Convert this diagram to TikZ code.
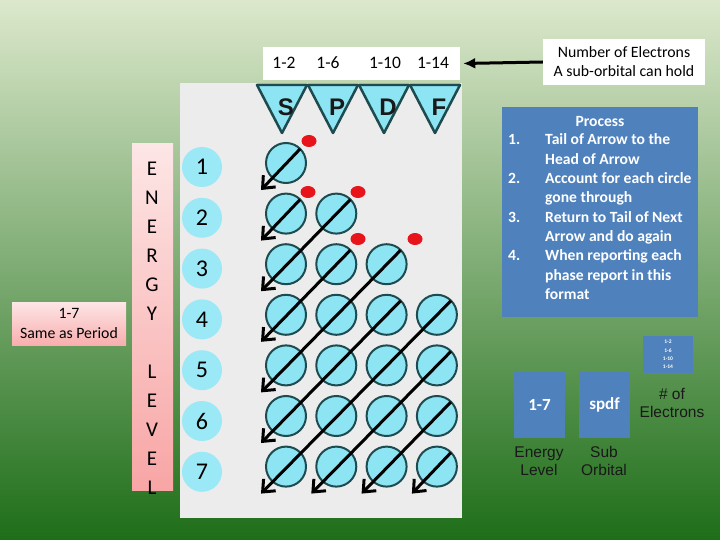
\documentclass[tikz,border=0pt]{standalone}
\usepackage{fontspec}
\setmainfont{Carlito}
\newfontfamily\arialf{Liberation Sans}
\usetikzlibrary{arrows.meta,calc,shapes.geometric}

\definecolor{orbfill}{RGB}{141,228,243}
\definecolor{orbline}{RGB}{30,75,80}
\definecolor{numfill}{RGB}{155,232,246}
\definecolor{panelgray}{RGB}{236,236,236}
\definecolor{procblue}{RGB}{79,129,189}
\definecolor{dotred}{RGB}{232,20,28}
\definecolor{bgtop}{RGB}{220,232,204}
\definecolor{bgmid}{RGB}{135,176,100}
\definecolor{bgbot}{RGB}{30,110,25}
\definecolor{pinktop}{RGB}{253,230,230}
\definecolor{pinkbot}{RGB}{248,165,165}

\begin{document}
\begin{tikzpicture}[x=1pt,y=-1pt,
  orb/.style={circle, draw=orbline, line width=2pt, fill=orbfill, minimum size=40pt, inner sep=0pt},
  lvl/.style={circle, fill=numfill, minimum size=40pt, inner sep=0pt, font=\fontsize{24}{26}\selectfont},
  tri/.style={draw=orbline, line width=2.5pt, fill=orbfill, line join=round},
  diag/.style={line width=3pt, -{Straight Barb[length=10pt,width=17pt]}},
  reddot/.style={ellipse, fill=dotred, minimum width=15pt, minimum height=12pt, inner sep=0pt},
  elet/.style={font=\fontsize{21}{22}\selectfont, inner sep=0pt},
  toplbl/.style={font=\fontsize{17.5}{19}\selectfont, inner sep=0pt},
  spdf/.style={font=\arialf\bfseries\fontsize{24}{25}\selectfont, inner sep=0pt, text=black!90},
  proctxt/.style={font=\bfseries\fontsize{15.6}{17}\selectfont, text=white, inner sep=0pt, anchor=base west},
  legbox/.style={fill=procblue, minimum width=51pt, minimum height=66pt, inner sep=0pt, text=white, font=\bfseries\fontsize{17}{18}\selectfont},
  leglbl/.style={font=\arialf\fontsize{15.5}{18}\selectfont, align=center, inner sep=0pt, text=black!90}
]
% background
\shade[top color=bgtop, middle color=bgmid, bottom color=bgbot] (0,0) rectangle (720,540);
\useasboundingbox (0,0) rectangle (720,540);

% gray panel
\fill[panelgray] (180,83) rectangle (462,518);

% top box with electron counts
\node[fill=white, minimum width=197pt, minimum height=33pt, inner sep=0pt] (topbox) at (361.5,63.5) {};
\node[toplbl] (n2) at (284,63) {1-2};
\node[toplbl] (n6) at (328,63) {1-6};
\node[toplbl] (n10) at (385,63) {1-10};
\node[toplbl] (n14) at (433,63) {1-14};

% number of electrons box
\node[fill=white, minimum width=162pt, minimum height=46pt, inner sep=0pt, align=center,
      font=\fontsize{15.8}{19}\selectfont] (numbox) at (624,62)
      {Number of Electrons\\A sub-orbital can hold};
\draw[line width=3pt, -{Latex[length=12pt,width=11pt]}] (numbox.west) -- ([xshift=3pt]topbox.east);

% s p d f triangles
\foreach \cx/\L in {282/S,333/P,384/D,435/F}{
  \draw[tri] (\cx-25,85) -- (\cx+25,85) -- (\cx,133) -- cycle;
  \node[spdf] (lab\L) at (\cx+4,107) {\L};
}

% energy level circles
\foreach \r in {1,...,7}{
  \node[lvl] (lv\r) at (202,{167+50.8*(\r-1)}) {\r};
}

% orbital circles
\foreach \r/\n in {1/1,2/2,3/3,4/4,5/4,6/4,7/4}{
  \foreach \c in {1,...,\n}{
    \node[orb] (o\r\c) at ({286+50.3*(\c-1)},{163+50.6*(\r-1)}) {};
  }
}

% diagonal arrows
\foreach \a/\b in {11/11,21/21,22/31,32/41,33/51,43/61,44/71,54/72,64/73,74/74}{
  \draw[diag] ([shift={(14,-14)}]o\a.center) -- ([shift={(-25,27)}]o\b.center);
}

% red dots
\node[reddot] (d1) at (309,141) {};
\node[reddot] (d2) at (308,192) {};
\node[reddot] (d3) at (358,192) {};
\node[reddot] (d4) at (358,239) {};
\node[reddot] (d5) at (415,239) {};

% energy level bar
\node[top color=pinktop, bottom color=pinkbot, minimum width=41pt, minimum height=346pt, inner sep=0pt] (ebar) at (152.5,317) {};
\foreach \l [count=\i] in {E,N,E,R,G,Y}{
  \node[elet] (ea\i) at (152,{169+29*(\i-1)}) {\l};
}
\foreach \l [count=\i] in {L,E,V,E,L}{
  \node[elet] (eb\i) at (152,{372+29*(\i-1)}) {\l};
}

% same as period box
\node[top color=pinktop, bottom color=pinkbot!90, minimum width=114pt, minimum height=43pt, inner sep=0pt,
      align=center, font=\fontsize{15.8}{20}\selectfont] (sap) at (69,323.5) {1-7\\Same as Period};

% process box
\node[fill=procblue, minimum width=196pt, minimum height=210pt, inner sep=0pt] (proc) at (600,212) {};
\node[proctxt, anchor=base] (ptitle) at (600,127) {Process};
\node[proctxt] (p1) at (508,145) {1.};
\node[proctxt] (p1a) at (545,145) {Tail of Arrow to the};
\node[proctxt] (p1b) at (545,164.3) {Head of Arrow};
\node[proctxt] (p2) at (508,183.6) {2.};
\node[proctxt] (p2a) at (545,183.6) {Account for each circle};
\node[proctxt] (p2b) at (545,202.9) {gone through};
\node[proctxt] (p3) at (508,222.2) {3.};
\node[proctxt] (p3a) at (545,222.2) {Return to Tail of Next};
\node[proctxt] (p3b) at (545,241.5) {Arrow and do again};
\node[proctxt] (p4) at (508,260.8) {4.};
\node[proctxt] (p4a) at (545,260.8) {When reporting each};
\node[proctxt] (p4b) at (545,280.1) {phase report in this};
\node[proctxt] (p4c) at (545,299.4) {format};

% legend
\node[fill=procblue, minimum width=50pt, minimum height=37pt, inner sep=0pt, align=center,
      text=white, font=\bfseries\fontsize{5.5}{8.3}\selectfont] (tiny) at (668,354.5) {1-2\\1-6\\1-10\\1-14};
\node[legbox] (lb1) at (539.5,405) {1-7};
\node[legbox] (lb2) at (604.5,405) {spdf};
\node[leglbl] (ll1) at (539,461) {Energy\\Level};
\node[leglbl] (ll2) at (604,461) {Sub\\Orbital};
\node[leglbl] (ll3) at (672,402.5) {\# of\\Electrons};
\end{tikzpicture}
\end{document}
